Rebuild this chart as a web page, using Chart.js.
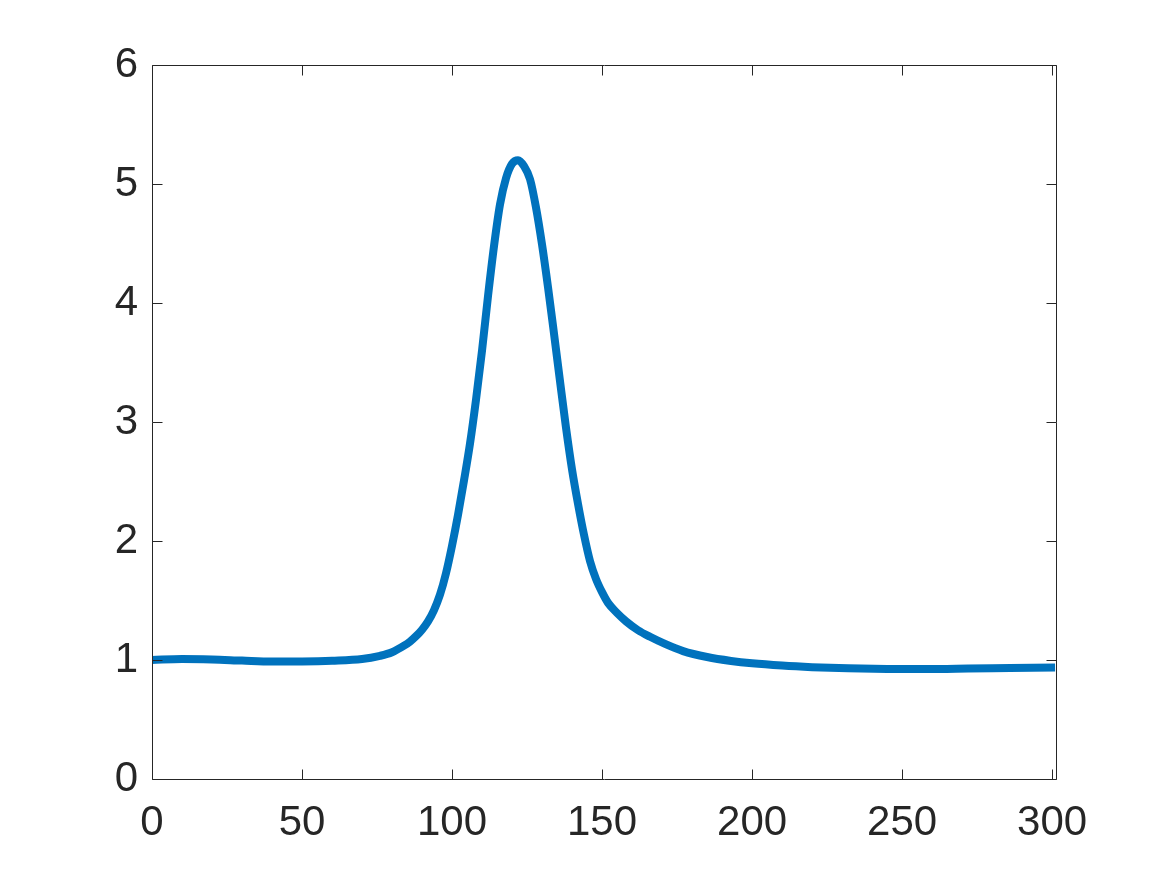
<!DOCTYPE html>
<html>
<head>
<meta charset="utf-8">
<script src="https://cdn.jsdelivr.net/npm/chart.js@4"></script>
<style>
  html, body { margin: 0; padding: 0; background: #ffffff; }
  #wrap { width: 1167px; height: 875px; }
</style>
</head>
<body>
<div id="wrap"><canvas id="c" width="1167" height="875"></canvas></div>
<script>
// ---- data ----
const xValues = [0, 10, 20, 30, 40, 50, 60, 70, 76, 80, 84, 86, 88, 90, 92, 94, 96, 98, 100, 102, 104, 106, 108, 110, 112, 114, 116, 118, 120, 122, 124, 126, 128, 130, 132, 134, 136, 138, 140, 142, 144, 146, 148, 150, 152, 155, 158, 162, 166, 171, 177, 185, 193, 200, 210, 220, 232, 245, 258, 272, 286, 301];
const yValues = [1.00, 1.008, 1.004, 0.995, 0.987, 0.988, 0.994, 1.008, 1.035, 1.065, 1.12, 1.155, 1.20, 1.255, 1.325, 1.42, 1.55, 1.73, 1.96, 2.22, 2.51, 2.82, 3.19, 3.60, 4.06, 4.48, 4.83, 5.05, 5.17, 5.20, 5.15, 5.04, 4.80, 4.49, 4.13, 3.74, 3.34, 2.95, 2.60, 2.31, 2.05, 1.83, 1.68, 1.57, 1.48, 1.395, 1.325, 1.25, 1.195, 1.135, 1.075, 1.025, 0.992, 0.972, 0.953, 0.94, 0.93, 0.925, 0.924, 0.928, 0.933, 0.938];
const xTickValues = [0, 50, 100, 150, 200, 250, 300];
const yTickValues = [0, 1, 2, 3, 4, 5, 6];
const xMin = 0, xMax = 301.3;
const yMin = 0, yMax = 6;

const points = xValues.map((x, i) => ({ x: x, y: yValues[i] }));

const axisColor = '#262626';
const fontSpec = { family: '"Liberation Sans", Helvetica, Arial, sans-serif', size: 42 };

// draws the box frame and inward tick marks (MATLAB style) from the scales
const boxPlugin = {
  id: 'boxPlugin',
  afterDatasetsDraw(chart) {
    const { ctx, chartArea: a, scales } = chart;
    const len = 10;
    ctx.save();
    ctx.strokeStyle = axisColor;
    ctx.lineWidth = 1;
    ctx.beginPath();
    const L = Math.round(a.left) + 0.5, R = Math.round(a.right) + 0.5;
    const T = Math.round(a.top) + 0.5, B = Math.round(a.bottom) + 0.5;
    ctx.rect(L, T, R - L, B - T);
    xTickValues.forEach(v => {
      const px = Math.round(scales.x.getPixelForValue(v)) + 0.5;
      ctx.moveTo(px, B); ctx.lineTo(px, B - len);
      ctx.moveTo(px, T); ctx.lineTo(px, T + len);
    });
    yTickValues.forEach(v => {
      const py = Math.round(scales.y.getPixelForValue(v)) + 0.5;
      ctx.moveTo(L, py); ctx.lineTo(L + len, py);
      ctx.moveTo(R, py); ctx.lineTo(R - len, py);
    });
    ctx.stroke();
    ctx.restore();
  }
};

new Chart(document.getElementById('c'), {
  type: 'line',
  data: {
    datasets: [{
      data: points,
      borderColor: '#0072BD',
      borderWidth: 8,
      pointRadius: 0,
      fill: false,
      cubicInterpolationMode: 'monotone',
      borderCapStyle: 'butt',
      borderJoinStyle: 'round'
    }]
  },
  options: {
    responsive: false,
    animation: false,
    devicePixelRatio: 1,
    layout: { padding: { top: 65, right: 111, left: 0, bottom: 0 } },
    plugins: { legend: { display: false }, tooltip: { enabled: false } },
    scales: {
      x: {
        type: 'linear',
        min: xMin, max: xMax,
        grid: { display: false, drawTicks: false },
        border: { display: false },
        afterBuildTicks: s => { s.ticks = xTickValues.map(v => ({ value: v })); },
        afterFit: s => { s.height = 96; },
        ticks: { color: axisColor, font: fontSpec, padding: 19, maxRotation: 0, autoSkip: false }
      },
      y: {
        type: 'linear',
        min: yMin, max: yMax,
        grid: { display: false, drawTicks: false },
        border: { display: false },
        afterBuildTicks: s => { s.ticks = yTickValues.map(v => ({ value: v })); },
        afterFit: s => { s.width = 152; },
        ticks: { color: axisColor, font: fontSpec, padding: 14, autoSkip: false }
      }
    }
  },
  plugins: [boxPlugin]
});
</script>
</body>
</html>
